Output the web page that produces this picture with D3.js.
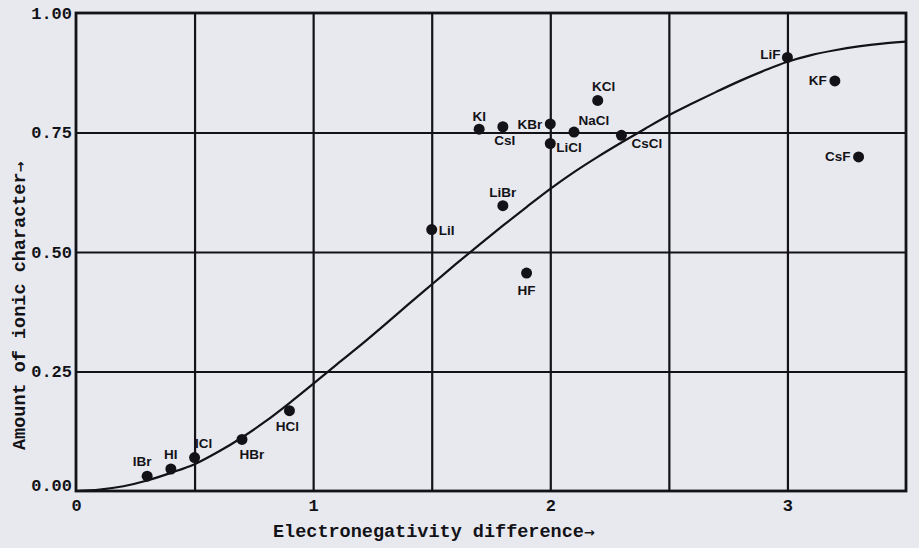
<!DOCTYPE html>
<html>
<head>
<meta charset="utf-8">
<script src="https://cdn.jsdelivr.net/npm/d3@7"></script>
<style>
  html, body { margin: 0; padding: 0; background: #e8e9ef; }
  svg { display: block; }
</style>
</head>
<body>
<div id="chart"></div>
<script>
// compounds and their values
const compounds = ["IBr", "HI", "ICl", "HBr", "HCl", "LiI", "LiBr", "KI", "CsI", "KBr",
                   "LiCl", "NaCl", "KCl", "CsCl", "LiF", "KF", "CsF", "HF"];
const enDiff = [0.3, 0.4, 0.5, 0.7, 0.9, 1.5, 1.8, 1.7, 1.8, 2.0,
                2.0, 2.1, 2.2, 2.3, 3.0, 3.2, 3.3, 1.9];
const ionic = [0.031, 0.046, 0.07, 0.108, 0.168, 0.547, 0.597, 0.757, 0.762, 0.768,
               0.727, 0.751, 0.817, 0.744, 0.907, 0.858, 0.699, 0.456];

// the smooth curve, read point by point
const curveX = [0, 0.1, 0.2, 0.3, 0.4, 0.5, 0.6, 0.7, 0.8, 0.9, 1.0, 1.1, 1.2, 1.3, 1.4, 1.5, 1.6, 1.7,
                1.8, 1.9, 2.0, 2.1, 2.2, 2.3, 2.4, 2.5, 2.6, 2.7, 2.8, 2.9, 3.0, 3.1, 3.2, 3.3, 3.4, 3.5];
const curveY = [0, 0.003, 0.01, 0.022, 0.038, 0.056, 0.082, 0.112, 0.146, 0.184, 0.224, 0.265, 0.305,
                0.347, 0.39, 0.432, 0.474, 0.515, 0.555, 0.594, 0.632, 0.667, 0.699, 0.729, 0.758,
                0.786, 0.811, 0.835, 0.858, 0.879, 0.898, 0.912, 0.922, 0.93, 0.936, 0.94];

const xTicks = [0, 1, 2, 3];
const yTicks = [0, 0.25, 0.5, 0.75, 1];
const yTickLabels = ["0.00", "0.25", "0.50", "0.75", "1.00"];

// where each label sits relative to its dot
const labelPos = {
  IBr: [-5, -15, "middle"], HI: [0, -15, "middle"], ICl: [9, -14, "middle"],
  HBr: [10, 15, "middle"], HCl: [-2, 15, "middle"], LiI: [7, 1, "start"],
  LiBr: [0, -13, "middle"], KI: [0, -13, "middle"], CsI: [2, 13, "middle"],
  KBr: [-8, 0, "end"], LiCl: [6, 4, "start"], NaCl: [20, -12, "middle"],
  KCl: [6, -14, "middle"], CsCl: [10, 8, "start"], LiF: [-7, -3, "end"],
  KF: [-8, -1, "end"], CsF: [-8, -1, "end"], HF: [0, 17, "middle"]
};

const width = 919, height = 548;
const margin = { top: 13, right: 13, bottom: 57, left: 76 };
const ink = "#131317";
const mono = "'Liberation Mono', 'DejaVu Sans Mono', monospace";

const svg = d3.select("#chart").append("svg")
  .attr("width", width).attr("height", height);

const x = d3.scaleLinear().domain([0, 3.5]).range([margin.left, width - margin.right]);
const y = d3.scaleLinear().domain([0, 1]).range([height - margin.bottom, margin.top]);

// grid
svg.append("g")
  .attr("transform", `translate(0,${height - margin.bottom})`)
  .call(d3.axisBottom(x).tickValues(d3.range(0.5, 3.5, 0.5)).tickSize(-(height - margin.top - margin.bottom)).tickFormat(""))
  .call(g => g.select(".domain").remove())
  .call(g => g.selectAll("line").attr("stroke", ink).attr("stroke-width", 2.2));

svg.append("g")
  .attr("transform", `translate(${margin.left},0)`)
  .call(d3.axisLeft(y).tickValues([0.25, 0.5, 0.75]).tickSize(-(width - margin.left - margin.right)).tickFormat(""))
  .call(g => g.select(".domain").remove())
  .call(g => g.selectAll("line").attr("stroke", ink).attr("stroke-width", 2.2));

// frame
svg.append("rect")
  .attr("x", margin.left).attr("y", margin.top)
  .attr("width", width - margin.left - margin.right)
  .attr("height", height - margin.top - margin.bottom)
  .attr("fill", "none").attr("stroke", ink).attr("stroke-width", 2.8);

// tick labels
svg.append("g")
  .attr("transform", `translate(${margin.left},0)`)
  .call(d3.axisLeft(y).tickValues(yTicks).tickSize(0).tickPadding(4).tickFormat((d, i) => yTickLabels[i]))
  .call(g => g.select(".domain").remove())
  .call(g => g.selectAll("text")
    .attr("font-family", mono)
    .attr("font-weight", "bold").attr("font-size", 17).attr("fill", ink)
    .attr("dy", (d, i) => i === 0 ? "-0.05em" : "0.32em"));

svg.append("g")
  .attr("transform", `translate(0,${height - margin.bottom})`)
  .call(d3.axisBottom(x).tickValues(xTicks).tickSize(0).tickPadding(8).tickFormat(d3.format("d")))
  .call(g => g.select(".domain").remove())
  .call(g => g.selectAll("text")
    .attr("font-family", mono)
    .attr("font-weight", "bold").attr("font-size", 17).attr("fill", ink));

// axis titles
const xTitle = svg.append("text")
  .attr("x", 273).attr("y", 537)
  .attr("font-family", mono).attr("font-weight", "bold")
  .attr("font-size", 18.5).attr("fill", ink)
  .text("Electronegativity difference");
xTitle.append("tspan").attr("font-family", "'DejaVu Sans', sans-serif").attr("font-size", 13).text("→");

const yTitle = svg.append("text")
  .attr("transform", "translate(25,450) rotate(-90)")
  .attr("font-family", mono).attr("font-weight", "bold")
  .attr("font-size", 18.5).attr("fill", ink)
  .text("Amount of ionic character");
yTitle.append("tspan").attr("font-family", "'DejaVu Sans', sans-serif").attr("font-size", 13).text("→");

// curve
const line = d3.line()
  .x((d, i) => x(curveX[i]))
  .y(d => y(d))
  .curve(d3.curveMonotoneX);

svg.append("path")
  .datum(curveY)
  .attr("d", line)
  .attr("fill", "none").attr("stroke", ink).attr("stroke-width", 2.2);

// points
const pts = compounds.map((name, i) => ({ name, x: enDiff[i], y: ionic[i] }));

svg.append("g").selectAll("circle")
  .data(pts).join("circle")
  .attr("cx", d => x(d.x)).attr("cy", d => y(d.y)).attr("r", 5.5)
  .attr("fill", ink);

svg.append("g").selectAll("text")
  .data(pts).join("text")
  .attr("x", d => x(d.x) + labelPos[d.name][0])
  .attr("y", d => y(d.y) + labelPos[d.name][1])
  .attr("dy", "0.36em")
  .attr("text-anchor", d => labelPos[d.name][2])
  .attr("font-family", "'Liberation Sans', Arial, sans-serif")
  .attr("font-weight", "bold").attr("font-size", 13.5).attr("fill", ink)
  .text(d => d.name);
</script>
</body>
</html>
